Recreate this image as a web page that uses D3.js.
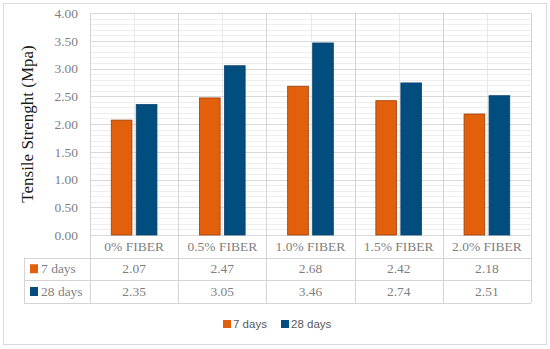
<!DOCTYPE html>
<html>
<head>
<meta charset="utf-8">
<script src="https://cdn.jsdelivr.net/npm/d3@7"></script>
<style>
  body { margin: 0; background: #fff; }
</style>
</head>
<body>
<div id="chart"></div>
<script>
// data
var categories = ["0% FIBER", "0.5% FIBER", "1.0% FIBER", "1.5% FIBER", "2.0% FIBER"];
var seriesNames = ["7 days", "28 days"];
var days7 = [2.07, 2.47, 2.68, 2.42, 2.18];
var days28 = [2.35, 3.05, 3.46, 2.74, 2.51];
var yTicks = [0, 0.5, 1, 1.5, 2, 2.5, 3, 3.5, 4];

var colors = ["#E2600B", "#004D7E"];
var strokes = ["#9C3F0A", "#0A4470"];
var serif = "'Liberation Serif', 'Times New Roman', serif";
var sans = "'Liberation Sans', Arial, sans-serif";

var W = 550, H = 349;
var plot = {left: 90, right: 531, top: 13, bottom: 235};
var rowY = [235, 257.5, 280, 303];
var tableLeft = 24;

var svg = d3.select("#chart").append("svg")
  .attr("width", W).attr("height", H);

// outer frame
svg.append("rect")
  .attr("x", 3.5).attr("y", 3.5)
  .attr("width", 543).attr("height", 341)
  .attr("fill", "#fff").attr("stroke", "#D9D9D9");

var x = d3.scaleBand()
  .domain(categories)
  .range([plot.left, plot.right]);

var xInner = d3.scaleBand()
  .domain(seriesNames)
  .range([0, x.bandwidth()])
  .paddingInner(0.172)
  .paddingOuter(0.85);

var y = d3.scaleLinear()
  .domain([0, 4])
  .range([plot.bottom, plot.top]);

// minor gridlines every 0.1
var minor = d3.range(0, 40).map(function(i) { return i / 10; })
  .filter(function(v) { return Math.round(v * 10) % 5 != 0; });
svg.append("g").selectAll("line")
  .data(minor)
  .enter().append("line")
    .attr("x1", plot.left).attr("x2", plot.right)
    .attr("y1", function(d) { return Math.round(y(d)) + 0.5; })
    .attr("y2", function(d) { return Math.round(y(d)) + 0.5; })
    .attr("stroke", "#EEEEEE");

// vertical minor lines at category centers
svg.append("g").selectAll("line")
  .data(categories)
  .enter().append("line")
    .attr("x1", function(d) { return Math.round(x(d) + x.bandwidth() / 2) + 0.5; })
    .attr("x2", function(d) { return Math.round(x(d) + x.bandwidth() / 2) + 0.5; })
    .attr("y1", plot.top).attr("y2", plot.bottom)
    .attr("stroke", "#E8E8E8");

// major gridlines
svg.append("g").selectAll("line")
  .data(yTicks)
  .enter().append("line")
    .attr("x1", plot.left).attr("x2", plot.right)
    .attr("y1", function(d) { return Math.round(y(d)) + 0.5; })
    .attr("y2", function(d) { return Math.round(y(d)) + 0.5; })
    .attr("stroke", "#D9D9D9");

// category dividers (run down through the table)
var edges = categories.map(function(c) { return x(c); }).concat([plot.right]);
svg.append("g").selectAll("line")
  .data(edges)
  .enter().append("line")
    .attr("x1", function(d) { return Math.round(d) + 0.5; })
    .attr("x2", function(d) { return Math.round(d) + 0.5; })
    .attr("y1", plot.top).attr("y2", rowY[3])
    .attr("stroke", "#D4D4D4");

// y tick labels
var yAxis = svg.append("g")
  .attr("transform", "translate(" + (plot.left - 12) + ",0)")
  .call(d3.axisLeft(y).tickValues(yTicks).tickSize(0).tickPadding(0)
    .tickFormat(d3.format(".2f")));
yAxis.select(".domain").remove();
yAxis.selectAll("text")
  .attr("font-family", serif).attr("font-size", 13.5)
  .attr("fill", "#7F7F7F");

// axis title
svg.append("text")
  .attr("transform", "translate(33," + ((plot.top + plot.bottom) / 2) + ") rotate(-90)")
  .attr("text-anchor", "middle")
  .attr("font-family", serif).attr("font-size", 17)
  .attr("fill", "#1a1a1a")
  .text("Tensile Strenght (Mpa)");

// bars
var series = [days7, days28];
series.forEach(function(vals, si) {
  svg.append("g").selectAll("rect")
    .data(vals)
    .enter().append("rect")
      .attr("x", function(d, i) { return x(categories[i]) + xInner(seriesNames[si]); })
      .attr("y", function(d) { return y(d); })
      .attr("width", xInner.bandwidth())
      .attr("height", function(d) { return y(0) - y(d); })
      .attr("fill", colors[si])
      .attr("stroke", strokes[si])
      .attr("stroke-width", 0.8);
});

// data table
var tg = svg.append("g");
rowY.slice(1).forEach(function(ry) {
  tg.append("line")
    .attr("x1", tableLeft).attr("x2", plot.right)
    .attr("y1", Math.round(ry) + 0.5).attr("y2", Math.round(ry) + 0.5)
    .attr("stroke", "#D4D4D4");
});
tg.append("line")
  .attr("x1", tableLeft + 0.5).attr("x2", tableLeft + 0.5)
  .attr("y1", rowY[1]).attr("y2", rowY[3])
  .attr("stroke", "#D4D4D4");

// category labels row
tg.selectAll("text.cat")
  .data(categories)
  .enter().append("text")
    .attr("class", "cat")
    .attr("x", function(d) { return x(d) + x.bandwidth() / 2; })
    .attr("y", (rowY[0] + rowY[1]) / 2)
    .attr("dy", "0.35em")
    .attr("text-anchor", "middle")
    .attr("font-family", serif).attr("font-size", 13.5)
    .attr("fill", "#7F7F7F")
    .text(function(d) { return d; });

series.forEach(function(vals, si) {
  var cy = (rowY[si + 1] + rowY[si + 2]) / 2;
  tg.append("rect")
    .attr("x", 30).attr("y", cy - 4.5)
    .attr("width", 8).attr("height", 9)
    .attr("fill", colors[si]);
  tg.append("text")
    .attr("x", 41).attr("y", cy).attr("dy", "0.35em")
    .attr("font-family", serif).attr("font-size", 13.5)
    .attr("fill", "#7F7F7F")
    .text(seriesNames[si]);
  tg.selectAll("text.v" + si)
    .data(vals)
    .enter().append("text")
      .attr("class", "v" + si)
      .attr("x", function(d, i) { return x(categories[i]) + x.bandwidth() / 2; })
      .attr("y", cy).attr("dy", "0.35em")
      .attr("text-anchor", "middle")
      .attr("font-family", serif).attr("font-size", 13.5)
      .attr("fill", "#7F7F7F")
      .text(function(d) { return d3.format(".2f")(d); });
});

// legend
var legendX = [223, 281];
var lg = svg.append("g");
seriesNames.forEach(function(name, si) {
  lg.append("rect")
    .attr("x", legendX[si]).attr("y", 320)
    .attr("width", 8).attr("height", 8)
    .attr("fill", colors[si]);
  lg.append("text")
    .attr("x", legendX[si] + 10).attr("y", 324).attr("dy", "0.35em")
    .attr("font-family", sans).attr("font-size", 11.5)
    .attr("fill", "#595959")
    .text(name);
});
</script>
</body>
</html>
